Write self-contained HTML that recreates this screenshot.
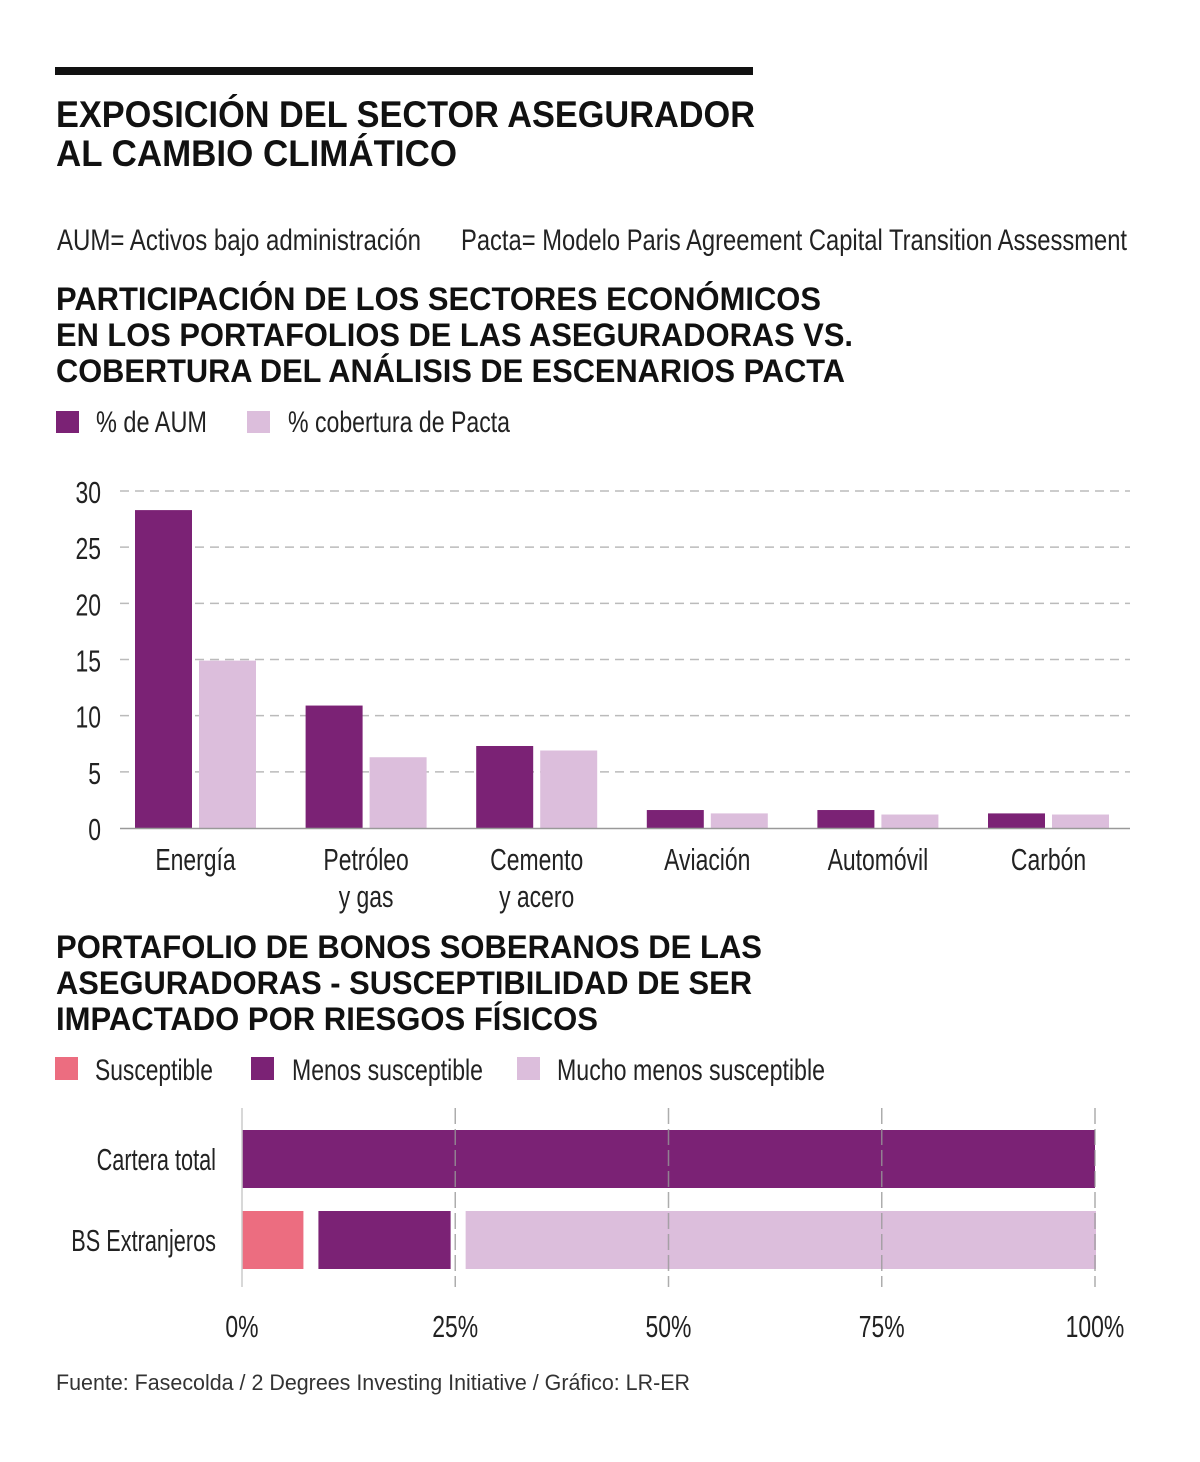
<!DOCTYPE html>
<html><head><meta charset="utf-8"><style>
html,body{margin:0;padding:0;background:#fff;}
svg{display:block;font-family:"Liberation Sans",sans-serif;}
</style></head><body>
<svg id="root" width="1200" height="1462" viewBox="0 0 1200 1462">
<rect x="55" y="67" width="698" height="8" fill="#111"/>
<g fill="#111" font-weight="bold" font-size="37">
<text x="56" y="127" textLength="699" lengthAdjust="spacingAndGlyphs">EXPOSICIÓN DEL SECTOR ASEGURADOR</text>
<text x="56" y="166" textLength="401" lengthAdjust="spacingAndGlyphs">AL CAMBIO CLIMÁTICO</text>
</g>
<g fill="#222" font-size="30">
<text x="57" y="250" textLength="364" lengthAdjust="spacingAndGlyphs">AUM= Activos bajo administración</text>
<text x="461" y="250" textLength="666" lengthAdjust="spacingAndGlyphs">Pacta= Modelo  Paris  Agreement Capital Transition Assessment</text>
</g>
<g fill="#111" font-weight="bold" font-size="32">
<text x="56" y="310" textLength="765" lengthAdjust="spacingAndGlyphs">PARTICIPACIÓN DE LOS SECTORES ECONÓMICOS</text>
<text x="56" y="346" textLength="797" lengthAdjust="spacingAndGlyphs">EN LOS PORTAFOLIOS DE LAS ASEGURADORAS VS.</text>
<text x="56" y="382" textLength="789" lengthAdjust="spacingAndGlyphs">COBERTURA DEL ANÁLISIS DE ESCENARIOS PACTA</text>
</g>
<g>
<rect x="56" y="411" width="23" height="22" fill="#7b2275"/>
<text x="96" y="432" font-size="30" fill="#222" textLength="111" lengthAdjust="spacingAndGlyphs">% de AUM</text>
<rect x="247" y="411" width="23" height="22" fill="#dcbedc"/>
<text x="288" y="432" font-size="30" fill="#222" textLength="222" lengthAdjust="spacingAndGlyphs">% cobertura de Pacta</text>
</g>
<g id="bars"></g>
<g fill="#111" font-weight="bold" font-size="32">
<text x="56" y="958" textLength="706" lengthAdjust="spacingAndGlyphs">PORTAFOLIO DE BONOS SOBERANOS DE LAS</text>
<text x="56" y="994" textLength="696" lengthAdjust="spacingAndGlyphs">ASEGURADORAS - SUSCEPTIBILIDAD DE SER</text>
<text x="56" y="1030" textLength="542" lengthAdjust="spacingAndGlyphs">IMPACTADO POR RIESGOS FÍSICOS</text>
</g>
<g>
<rect x="55" y="1057" width="23" height="23" fill="#ec6d80"/>
<text x="95" y="1080" font-size="30" fill="#222" textLength="118" lengthAdjust="spacingAndGlyphs">Susceptible</text>
<rect x="251" y="1057" width="23" height="23" fill="#7b2275"/>
<text x="292" y="1080" font-size="30" fill="#222" textLength="191" lengthAdjust="spacingAndGlyphs">Menos susceptible</text>
<rect x="517" y="1057" width="23" height="23" fill="#dcbedc"/>
<text x="557" y="1080" font-size="30" fill="#222" textLength="268" lengthAdjust="spacingAndGlyphs">Mucho menos susceptible</text>
</g>
<g id="stack"></g>
<text x="56" y="1390" font-size="22" fill="#333" textLength="634" lengthAdjust="spacingAndGlyphs">Fuente: Fasecolda / 2 Degrees Investing Initiative / Gráfico: LR-ER</text>
</svg>
<script>
const categories = [["Energía"],["Petróleo","y gas"],["Cemento","y acero"],["Aviación"],["Automóvil"],["Carbón"]];
const aumValues = [28.3, 10.9, 7.3, 1.6, 1.6, 1.3];
const pactaValues = [14.9, 6.3, 6.9, 1.3, 1.2, 1.2];
const yTicks = [0, 5, 10, 15, 20, 25, 30];

const stackRows = ["Cartera total", "BS Extranjeros"];
const susceptible = [0, 7.2];
const menosSusceptible = [100, 15.5];
const muchoMenos = [0, 73.9];
const xTicks = [0, 25, 50, 75, 100];

const NS = "http://www.w3.org/2000/svg";
function mk(tag, attrs, parent){
  const el = document.createElementNS(NS, tag);
  for (const k in attrs) el.setAttribute(k, attrs[k]);
  parent.appendChild(el);
  return el;
}
function ctext(parent, x, y, str, size, anchor, sx){
  sx = sx || 0.74;
  const t = mk("text", {x: x/sx, y: y, "font-size": size, fill: "#222", "text-anchor": anchor, transform: "scale(" + sx + ",1)"}, parent);
  t.textContent = str;
  return t;
}

// bar chart
const bars = document.getElementById("bars");
const y0 = 828, yTop = 491, yMax = 30;
function yS(v){ return y0 - (y0 - yTop) * v / yMax; }
const groupStart = 135, groupStep = 170.6, bw = 57, gap = 7;
yTicks.forEach(v => {
  if (v > 0) {
    const g = mk("line", {x1: 120, x2: 1130, y1: yS(v), y2: yS(v), stroke: "#bbb", "stroke-width": 1.5, "stroke-dasharray": "9,6"}, bars);
    
    
  }
  const t = ctext(bars, 101, yS(v) + 12, String(v), 31, "end");
  
  
});
categories.forEach((c, i) => {
  const gx = groupStart + i * groupStep;
  const r1 = mk("rect", {x: gx, y: yS(aumValues[i]), width: bw, height: y0 - yS(aumValues[i]), fill: "#7b2275"}, bars);
  
  
  const r2 = mk("rect", {x: gx + bw + gap, y: yS(pactaValues[i]), width: bw, height: y0 - yS(pactaValues[i]), fill: "#dcbedc"}, bars);
  
  
  const cx = gx + bw + gap / 2;
  c.forEach((line, j) => {
    const t = ctext(bars, cx, 870 + j * 37, line, 31, "middle");
    
    
  });
});
const ax = mk("line", {x1: 120, x2: 1130, y1: y0 + 0.5, y2: y0 + 0.5, stroke: "#999", "stroke-width": 1.5}, bars);



// stacked chart
const stack = document.getElementById("stack");
const x0 = 242, x1 = 1095;
function xS(p){ return x0 + (x1 - x0) * p / 100; }
const rowY = [1130, 1211], rowH = 58, segGap = 15;
stackRows.forEach((name, i) => {
  const lab = ctext(stack, 216, rowY[i] + 40, name, 31, "end", 0.7);
  
  
  let px = x0;
  [[susceptible[i], "#ec6d80", "segment-susceptible"], [menosSusceptible[i], "#7b2275", "segment-menos-susceptible"], [muchoMenos[i], "#dcbedc", "segment-mucho-menos"]].forEach(s => {
    if (s[0] <= 0) return;
    const w = (x1 - x0) * s[0] / 100;
    const r = mk("rect", {x: px, y: rowY[i], width: w, height: rowH, fill: s[1]}, stack);
    
    
    px += w + segGap;
  });
});
xTicks.forEach(p => {
  const l = mk("line", {x1: xS(p), x2: xS(p), y1: 1108, y2: 1287, stroke: p === 0 ? "#ccc" : "#999", "stroke-opacity": p === 0 ? 1 : 0.8, "stroke-width": 1.5, "stroke-dasharray": p === 0 ? "none" : "16,5"}, stack);
  
  
  const t = ctext(stack, xS(p), 1337, p + "%", 31, "middle");
  
  
});
</script>
</body></html>
